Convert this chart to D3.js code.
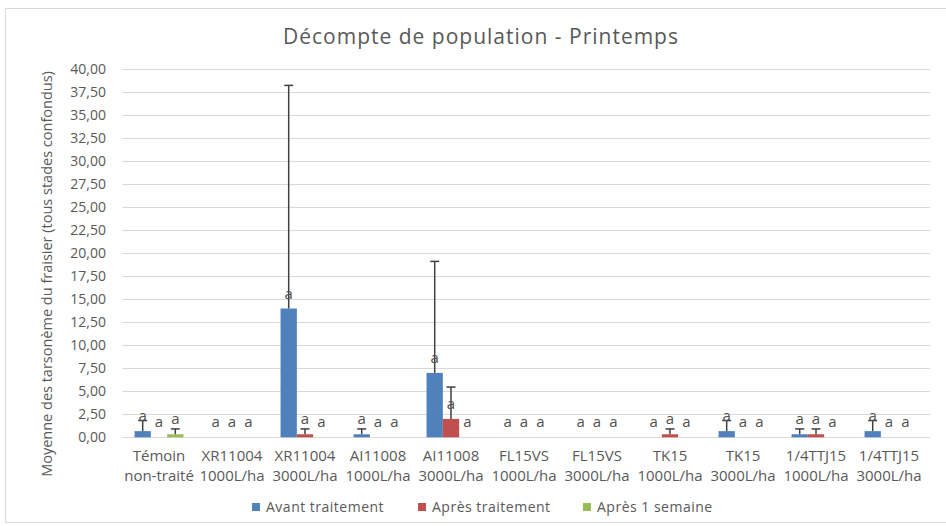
<!DOCTYPE html>
<html>
<head>
<meta charset="utf-8">
<script src="https://cdn.jsdelivr.net/npm/d3@7"></script>
<style>
	body { margin: 0; background: white; }
	text { font-family: "Open Sans", "Liberation Sans", sans-serif; }
</style>
</head>
<body>
<script>

// Treatments (two lines per label)
var categories = ["Témoin|non-traité", "XR11004|1000L/ha", "XR11004|3000L/ha", "AI11008|1000L/ha",
	"AI11008|3000L/ha", "FL15VS|1000L/ha", "FL15VS|3000L/ha", "TK15|1000L/ha", "TK15|3000L/ha",
	"1/4TTJ15|1000L/ha", "1/4TTJ15|3000L/ha"];

var seriesNames = ["Avant traitement", "Après traitement", "Après 1 semaine"];

// Means per series
var avant  = [0.67, 0, 14.00, 0.33, 7.00, 0, 0, 0, 0.67, 0.33, 0.67];
var apres  = [0, 0, 0.33, 0, 2.00, 0, 0, 0.33, 0, 0.33, 0];
var semaine = [0.33, 0, 0, 0, 0, 0, 0, 0, 0, 0, 0];

// Standard deviations (plus side only)
var avantErr  = [1.15, 0, 24.25, 0.58, 12.12, 0, 0, 0, 1.15, 0.58, 1.15];
var apresErr  = [0, 0, 0.58, 0, 3.46, 0, 0, 0.58, 0, 0.58, 0];
var semaineErr = [0.58, 0, 0, 0, 0, 0, 0, 0, 0, 0, 0];

// Significance letters
var letters = ["a", "a", "a"];

var yTicks = [0, 2.5, 5, 7.5, 10, 12.5, 15, 17.5, 20, 22.5, 25, 27.5, 30, 32.5, 35, 37.5, 40];

var colors = ["#4f81bd", "#c0504d", "#9bbb59"];
var textColor = "#595959";

var width = 946;
var height = 526;

var svg = d3.select("body")
	.append("svg")
	.attr("width", width)
	.attr("height", height);

// Chart border
svg.append("rect")
	.attr("x", 5.5)
	.attr("y", 8.5)
	.attr("width", 960)
	.attr("height", 514)
	.attr("fill", "white")
	.attr("stroke", "#d9d9d9");

var x0 = d3.scaleBand()
	.domain(categories)
	.range([122.5, 925.5]);

var gap = x0.bandwidth() * 0.165;
var x1 = d3.scaleBand()
	.domain(seriesNames)
	.range([gap, x0.bandwidth() - gap]);

var y = d3.scaleLinear()
	.domain([0, 40])
	.range([437.3, 69.3]);

// Gridlines
svg.selectAll("line.grid")
	.data(yTicks)
	.enter()
	.append("line")
	.attr("x1", 122)
	.attr("x2", 930)
	.attr("y1", (d) => {return Math.round(y(d)) + 0.5})
	.attr("y2", (d) => {return Math.round(y(d)) + 0.5})
	.attr("stroke", "#d9d9d9")
	.attr("stroke-width", 1.2);

// Y axis labels
var yAxis = d3.axisLeft(y)
	.tickValues(yTicks)
	.tickSize(0)
	.tickPadding(0)
	.tickFormat((d) => {return d3.format(".2f")(d).replace(".", ",")});

var yG = svg.append("g")
	.attr("transform", "translate(106,0)")
	.call(yAxis);
yG.select(".domain").remove();
yG.selectAll("text")
	.attr("fill", textColor)
	.attr("font-size", "14px")
	.attr("font-family", "Open Sans");

// Build rows
var rows = categories.map((c, i) => {
	return [
		{cat: c, s: seriesNames[0], v: avant[i], e: avantErr[i], k: 0},
		{cat: c, s: seriesNames[1], v: apres[i], e: apresErr[i], k: 1},
		{cat: c, s: seriesNames[2], v: semaine[i], e: semaineErr[i], k: 2}
	];
});
var flat = rows.flat();

// Bars
svg.selectAll("rect.bar")
	.data(flat)
	.enter()
	.append("rect")
	.attr("x", (d) => {return x0(d.cat) + x1(d.s)})
	.attr("y", (d) => {return y(d.v)})
	.attr("width", x1.bandwidth())
	.attr("height", (d) => {return y(0) - y(d.v)})
	.attr("fill", (d) => {return colors[d.k]});

// Error bars (plus only)
var errs = flat.filter((d) => {return d.e > 0});
var cx = (d) => {return x0(d.cat) + x1(d.s) + x1.bandwidth() / 2};

svg.selectAll("line.err")
	.data(errs)
	.enter()
	.append("line")
	.attr("x1", cx)
	.attr("x2", cx)
	.attr("y1", (d) => {return y(d.v)})
	.attr("y2", (d) => {return y(d.v + d.e)})
	.attr("stroke", "#404040")
	.attr("stroke-width", 1.5);

svg.selectAll("line.cap")
	.data(errs)
	.enter()
	.append("line")
	.attr("x1", (d) => {return cx(d) - 4.5})
	.attr("x2", (d) => {return cx(d) + 4.5})
	.attr("y1", (d) => {return y(d.v + d.e)})
	.attr("y2", (d) => {return y(d.v + d.e)})
	.attr("stroke", "#404040")
	.attr("stroke-width", 1.5);

// Letters above each bar
svg.selectAll("text.letter")
	.data(flat)
	.enter()
	.append("text")
	.text((d) => {return letters[d.k]})
	.attr("x", cx)
	.attr("y", (d) => {return y(d.v) - 10})
	.attr("text-anchor", "middle")
	.attr("font-size", "15px")
	.attr("fill", "#505050");

// X labels
var xl = svg.selectAll("text.xl")
	.data(categories)
	.enter()
	.append("text")
	.attr("text-anchor", "middle")
	.attr("font-size", "15px")
	.attr("fill", textColor);

xl.append("tspan")
	.attr("x", (d) => {return x0(d) + x0.bandwidth() / 2})
	.attr("y", 461)
	.text((d) => {return d.split("|")[0]});
xl.append("tspan")
	.attr("x", (d) => {return x0(d) + x0.bandwidth() / 2})
	.attr("y", 481)
	.text((d) => {return d.split("|")[1]});

// Title
svg.append("text")
	.text("Décompte de population - Printemps")
	.attr("x", 481)
	.attr("y", 44)
	.attr("text-anchor", "middle")
	.attr("font-size", "21px")
	.attr("letter-spacing", "1px")
	.attr("fill", textColor);

// Y axis title
svg.append("text")
	.text("Moyenne des tarsonème du fraisier (tous stades confondus)")
	.attr("transform", "translate(52,274) rotate(-90)")
	.attr("text-anchor", "middle")
	.attr("font-size", "14.5px")
	.attr("fill", textColor);

// Legend
var legendX = [252, 418, 583];
var legend = svg.selectAll("g.legend")
	.data(seriesNames)
	.enter()
	.append("g")
	.attr("transform", (d, i) => {return "translate(" + legendX[i] + ",507)"});

legend.append("rect")
	.attr("x", 0)
	.attr("y", -4)
	.attr("width", 8)
	.attr("height", 8)
	.attr("fill", (d, i) => {return colors[i]});

legend.append("text")
	.text((d) => {return d})
	.attr("x", 14)
	.attr("y", 5)
	.attr("font-size", "14px")
	.attr("letter-spacing", "0.5px")
	.attr("fill", textColor);

</script>
</body>
</html>
